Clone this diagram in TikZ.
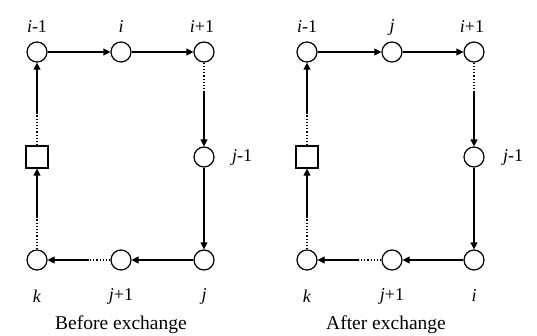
\documentclass[tikz,border=0pt]{standalone}
\usepackage{fontspec}
\setmainfont{Liberation Serif}
\usetikzlibrary{arrows.meta}
\begin{document}
\begin{tikzpicture}[x=1pt,y=-1pt,
  vtx/.style={circle,draw,line width=1.2pt,minimum size=20pt,inner sep=0pt},
  sqbox/.style={rectangle,draw,line width=1.2pt,minimum size=22pt,inner sep=0pt},
  lab/.style={font=\fontsize{18}{20}\selectfont,inner sep=0pt},
  captxt/.style={font=\fontsize{19.5}{22}\selectfont,inner sep=0pt,anchor=base},
  arr/.style={line width=1.2pt,-{Triangle[length=7pt,width=7pt]}},
  dotline/.style={line width=1.2pt,dotted}]
\useasboundingbox (0,0) rectangle (537,335);
% ---------- Before exchange ----------
\node[vtx] (a1) at (37,52) {};
\node[vtx] (a2) at (121,52) {};
\node[vtx] (a3) at (204,52) {};
\node[vtx] (a4) at (204,157) {};
\node[vtx] (a5) at (204,260) {};
\node[vtx] (a6) at (121,260) {};
\node[vtx] (a7) at (37,260) {};
\node[sqbox] (a8) at (37,157) {};
\node[lab] (la1) at (37,27) {\textit{i}-1};
\node[lab] (la2) at (121,27) {\textit{i}};
\node[lab] (la3) at (202,27) {\textit{i}+1};
\node[lab] (la4) at (242,157) {\textit{j}-1};
\node[lab] (la5) at (204,296) {\textit{j}};
\node[lab] (la6) at (121,296) {\textit{j}+1};
\node[lab] (la7) at (37,296) {\textit{k}};
\node[captxt] (ca) at (121,329) {Before exchange};
\coordinate (a3d) at (204,92);
\coordinate (a8d) at (37,113);
\coordinate (a7d) at (37,218);
\coordinate (a6d) at (89,260);
\draw[arr] (a1) -- (a2);
\draw[arr] (a2) -- (a3);
\draw[dotline] (a3) -- (a3d);
\draw[arr] (a3d) -- (a4);
\draw[arr] (a4) -- (a5);
\draw[arr] (a5) -- (a6);
\draw[dotline] (a6) -- (a6d);
\draw[arr] (a6d) -- (a7);
\draw[dotline] (a7) -- (a7d);
\draw[arr] (a7d) -- (a8);
\draw[dotline] (a8) -- (a8d);
\draw[arr] (a8d) -- (a1);
% ---------- After exchange ----------
\node[vtx] (b1) at (307,52) {};
\node[vtx] (b2) at (392,52) {};
\node[vtx] (b3) at (474,52) {};
\node[vtx] (b4) at (474,157) {};
\node[vtx] (b5) at (474,260) {};
\node[vtx] (b6) at (392,260) {};
\node[vtx] (b7) at (307,260) {};
\node[sqbox] (b8) at (307,157) {};
\node[lab] (lb1) at (307,27) {\textit{i}-1};
\node[lab] (lb2) at (392,27) {\textit{j}};
\node[lab] (lb3) at (472,27) {\textit{i}+1};
\node[lab] (lb4) at (513,157) {\textit{j}-1};
\node[lab] (lb5) at (474,296) {\textit{i}};
\node[lab] (lb6) at (392,296) {\textit{j}+1};
\node[lab] (lb7) at (307,296) {\textit{k}};
\node[captxt] (cb) at (386,329) {After exchange};
\coordinate (b3d) at (474,92);
\coordinate (b8d) at (307,113);
\coordinate (b7d) at (307,218);
\coordinate (b6d) at (359,260);
\draw[arr] (b1) -- (b2);
\draw[arr] (b2) -- (b3);
\draw[dotline] (b3) -- (b3d);
\draw[arr] (b3d) -- (b4);
\draw[arr] (b4) -- (b5);
\draw[arr] (b5) -- (b6);
\draw[dotline] (b6) -- (b6d);
\draw[arr] (b6d) -- (b7);
\draw[dotline] (b7) -- (b7d);
\draw[arr] (b7d) -- (b8);
\draw[dotline] (b8) -- (b8d);
\draw[arr] (b8d) -- (b1);
\end{tikzpicture}
\end{document}
